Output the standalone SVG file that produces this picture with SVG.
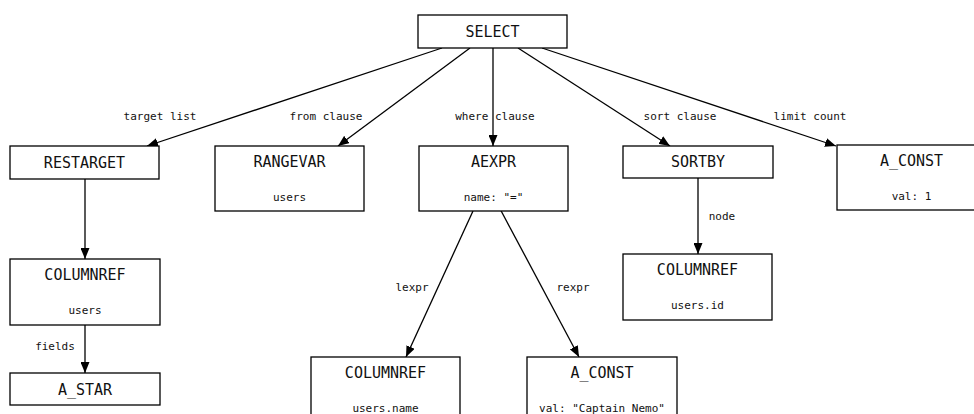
<svg xmlns="http://www.w3.org/2000/svg" width="974" height="414" viewBox="0 0 974 414">
<style>
.box{fill:#fff;stroke:#000;stroke-width:1.3}
.t{font-family:"DejaVu Sans Mono",monospace;font-size:15px;text-anchor:middle;fill:#111}
.s{font-family:"DejaVu Sans Mono",monospace;font-size:11px;text-anchor:middle;fill:#111}
.e{fill:none;stroke:#000;stroke-width:1.3;marker-end:url(#ah)}
</style>
<defs>
<marker id="ah" markerWidth="11" markerHeight="9" refX="11" refY="4.5" orient="auto" markerUnits="userSpaceOnUse">
<path d="M0,0 L11,4.5 L0,9 Z" fill="#000"/>
</marker>
</defs>
<rect width="974" height="414" fill="#fff"/>
<g id="connectors">
<line class="e" x1="442" y1="48" x2="147" y2="146"/>
<line class="e" x1="470" y1="48" x2="338" y2="146"/>
<line class="e" x1="493" y1="48" x2="493" y2="146"/>
<line class="e" x1="518" y1="48" x2="670" y2="146"/>
<line class="e" x1="542" y1="48" x2="836" y2="146"/>
<line class="e" x1="85" y1="179" x2="85" y2="259"/>
<line class="e" x1="85" y1="325" x2="85" y2="373"/>
<line class="e" x1="698" y1="178" x2="698" y2="254"/>
<line class="e" x1="473" y1="211" x2="406" y2="357"/>
<line class="e" x1="498" y1="205" x2="579" y2="357"/>
<text class="s" x="160" y="120">target list</text>
<text class="s" x="326" y="120">from clause</text>
<text class="s" x="495" y="120">where clause</text>
<text class="s" x="680" y="120">sort clause</text>
<text class="s" x="810" y="120">limit count</text>
<text class="s" x="722" y="220">node</text>
<text class="s" x="412" y="291">lexpr</text>
<text class="s" x="573" y="291">rexpr</text>
<text class="s" x="55" y="350">fields</text>
</g>
<g id="select"><rect class="box" x="418" y="15" width="149" height="33"/><text class="t" x="492.5" y="37">SELECT</text></g>
<g id="restarget"><rect class="box" x="10" y="146" width="149" height="33"/><text class="t" x="84.5" y="168">RESTARGET</text></g>
<g id="rangevar"><rect class="box" x="215" y="146" width="149" height="65"/><text class="t" x="289.5" y="167">RANGEVAR</text><text class="s" x="289.5" y="201">users</text></g>
<g id="aexpr"><rect class="box" x="419" y="146" width="149" height="65"/><text class="t" x="493.5" y="167">AEXPR</text><text class="s" x="493.5" y="201">name: "="</text></g>
<g id="sortby"><rect class="box" x="623" y="146" width="150" height="32"/><text class="t" x="698" y="167">SORTBY</text></g>
<g id="aconst_limit"><rect class="box" x="837" y="145" width="149" height="65"/><text class="t" x="911.5" y="166">A_CONST</text><text class="s" x="911.5" y="200">val: 1</text></g>
<g id="columnref_target"><rect class="box" x="10" y="259" width="150" height="66"/><text class="t" x="85" y="280">COLUMNREF</text><text class="s" x="85" y="314">users</text></g>
<g id="astar"><rect class="box" x="10" y="373" width="150" height="32"/><text class="t" x="85" y="395">A_STAR</text></g>
<g id="columnref_sort"><rect class="box" x="623" y="254" width="149" height="66"/><text class="t" x="697.5" y="275">COLUMNREF</text><text class="s" x="697.5" y="309">users.id</text></g>
<g id="columnref_lexpr"><rect class="box" x="311" y="357" width="149" height="70"/><text class="t" x="385.5" y="378">COLUMNREF</text><text class="s" x="385.5" y="412">users.name</text></g>
<g id="aconst_rexpr"><rect class="box" x="527" y="357" width="150" height="70"/><text class="t" x="602" y="378">A_CONST</text><text class="s" x="602" y="412">val: "Captain Nemo"</text></g>
</svg>
